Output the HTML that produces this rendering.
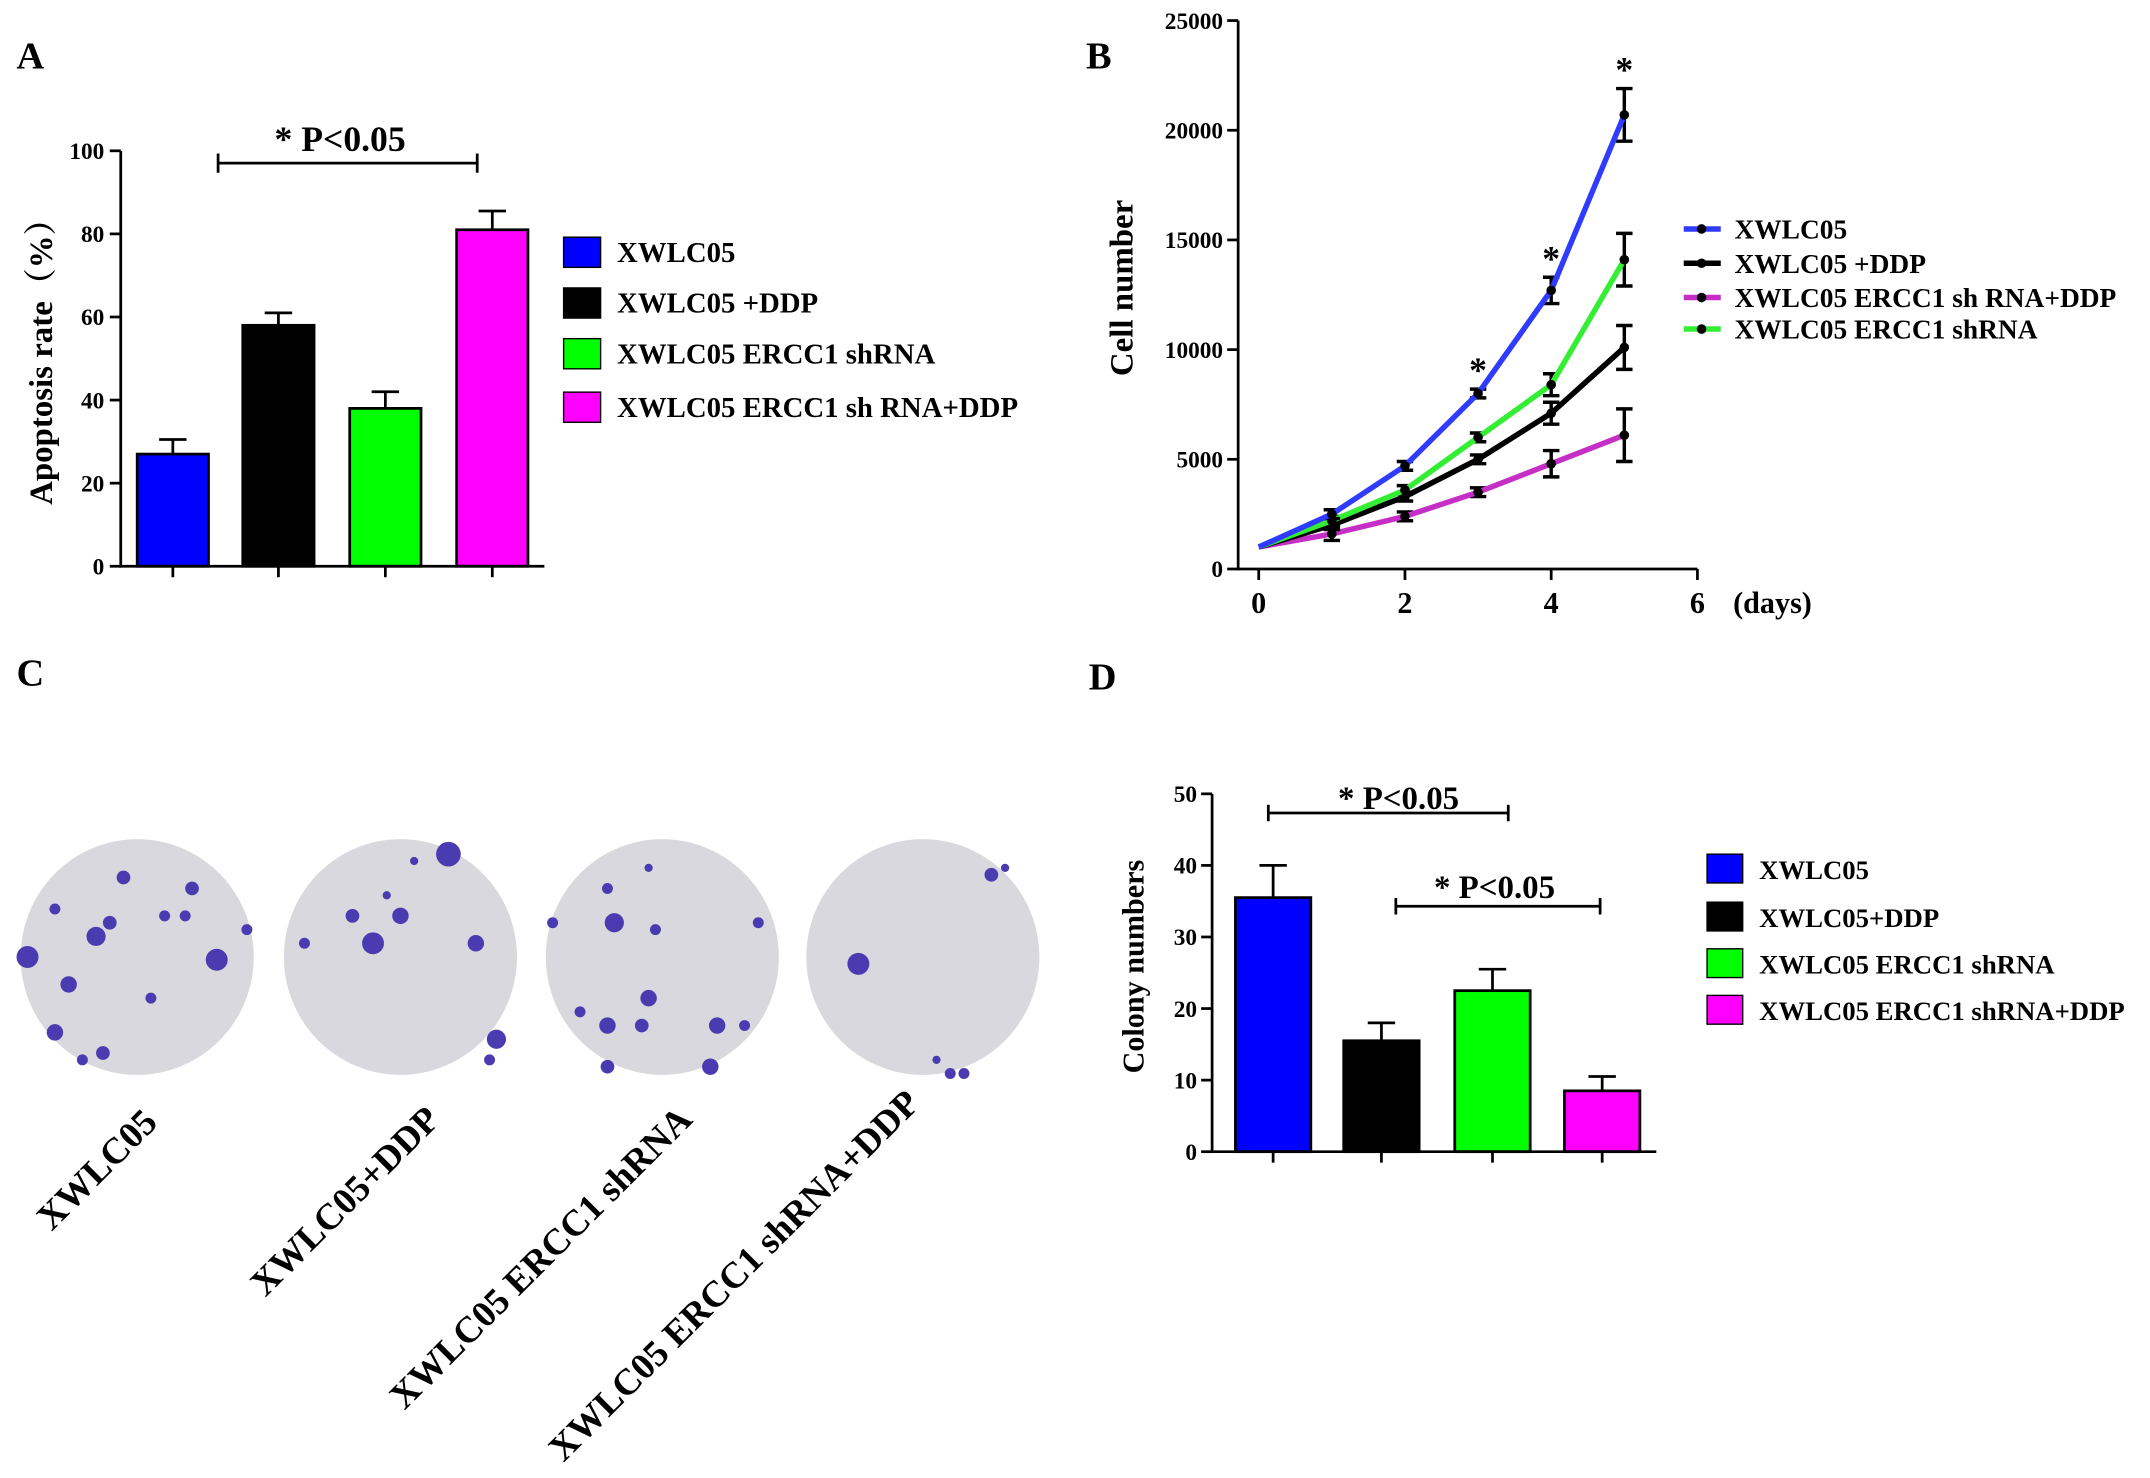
<!DOCTYPE html>
<html><head><meta charset="utf-8"><style>
html,body{margin:0;padding:0;background:#fff;}
svg{display:block;font-family:"Liberation Serif",serif;font-weight:bold;}
</style></head><body>
<svg id="fig" width="2150" height="1478" viewBox="0 0 1568 1078" xmlns="http://www.w3.org/2000/svg">
<g id="pa"></g>
<g id="pb"></g>
<g id="pc"></g>
<g id="pd"></g>
</svg>
<script>
// Panel A data
const aCats = ["XWLC05","XWLC05 +DDP","XWLC05 ERCC1 shRNA","XWLC05 ERCC1 sh RNA+DDP"];
const aVals = [27, 58, 38, 81];
const aErrs = [3.5, 3, 4, 4.5];
const aTicks = [0,20,40,60,80,100];
// Panel B data
const bDays = [0,1,2,3,4,5];
const bNames = ["XWLC05","XWLC05 +DDP","XWLC05 ERCC1 sh RNA+DDP","XWLC05 ERCC1 shRNA"];
const bS1 = [1000,2500,4700,8000,12700,20700];
const bS2 = [1000,2000,3300,5000,7100,10100];
const bS3 = [1000,1600,2400,3500,4800,6100];
const bS4 = [1000,2200,3600,6000,8400,14100];
const bE1 = [0,200,200,200,600,1200];
const bE2 = [0,200,200,200,500,1000];
const bE3 = [0,300,200,200,600,1200];
const bE4 = [0,200,200,200,500,1200];
const bYTicks = [0,5000,10000,15000,20000,25000];
const bXTicks = [0,2,4,6];
// Panel D data
const dCats = ["XWLC05","XWLC05+DDP","XWLC05 ERCC1 shRNA","XWLC05 ERCC1 shRNA+DDP"];
const dVals = [35.5, 15.5, 22.5, 8.5];
const dErrs = [4.5, 2.5, 3, 2];
const dTicks = [0,10,20,30,40,50];

const colors = ["#0000ff","#000000","#00ff00","#ff00ff"];
const NS="http://www.w3.org/2000/svg";
function mk(parent, tag, attrs, text){
  const e=document.createElementNS(NS,tag);
  for(const k in attrs) e.setAttribute(k,attrs[k]);
  if(text!==undefined) e.textContent=text;
  parent.appendChild(e); return e;
}
function line(p,x1,y1,x2,y2,w){return mk(p,'line',{x1,y1,x2,y2,stroke:'#000','stroke-width':w||2});}

// ---------- Panel A ----------
(function(){
  const g=document.getElementById('pa');
  const y=v=>413-v*3.03;
  const bx=[100,177,255,333], bw=52;
  let t=mk(g,'text',{x:12,y:50,'font-size':28},'A');
   
  aVals.forEach((v,i)=>{
    const cx=bx[i]+bw/2;
    const eb=line(g,cx,y(v),cx,y(v+aErrs[i]),2);
     
    line(g,cx-10,y(v+aErrs[i]),cx+10,y(v+aErrs[i]),2);
    const r=mk(g,'rect',{x:bx[i],y:y(v),width:bw,height:y(0)-y(v),fill:colors[i],stroke:'#000','stroke-width':2});
     
    line(g,cx,413,cx,421,2);
  });
  const ax=line(g,88,110,88,414,2);  
  const xx=line(g,87,413,397,413,2);  
  aTicks.forEach(v=>{
    line(g,80,y(v),88,y(v),2);
    const tl=mk(g,'text',{x:76,y:y(v)+6,'font-size':17,'text-anchor':'end'},v);
     
  });
  t=mk(g,'text',{transform:'translate(38,258) rotate(-90)','font-size':24,'text-anchor':'middle'},'Apoptosis rate（%）');
  t.style.fontFamily='"Liberation Serif","Noto Serif CJK SC",serif';
   
  line(g,159,119,348,119,2); line(g,159,112,159,126,2); line(g,348,112,348,126,2);
  t=mk(g,'text',{x:248,y:110,'font-size':26,'text-anchor':'middle'},'* P<0.05');
   
  const ly=[173,210,247,286];
  aCats.forEach((c,i)=>{
    const s=mk(g,'rect',{x:411,y:ly[i],width:27,height:22,fill:colors[i],stroke:'#000','stroke-width':1});
     
    const tt=mk(g,'text',{x:450,y:ly[i]+18,'font-size':21},c);
     
  });
})();

// ---------- Panel B ----------
(function(){
  const g=document.getElementById('pb');
  const x=d=>918+d*53.33, y=v=>415-v*0.016;
  let t=mk(g,'text',{x:792,y:50,'font-size':28},'B');
   
  let a=line(g,903,15,903,416,2);  
  a=line(g,902,415,1238,415,2);  
  bYTicks.forEach(v=>{
    line(g,895,y(v),903,y(v),2);
    const tl=mk(g,'text',{x:892,y:y(v)+6,'font-size':17,'text-anchor':'end'},v);
     
  });
  bXTicks.forEach(d=>{
    line(g,x(d),415,x(d),423,2);
    const tl=mk(g,'text',{x:x(d),y:447,'font-size':22,'text-anchor':'middle'},d);
     
  });
  t=mk(g,'text',{x:1264,y:447,'font-size':22},'(days)');
   
  t=mk(g,'text',{transform:'translate(826,210) rotate(-90)','font-size':24,'text-anchor':'middle'},'Cell number');
   
  const series=[bS1,bS2,bS3,bS4], errs=[bE1,bE2,bE3,bE4];
  const lc=["#2f3cff","#000000","#c62fc6","#33ee33"];
  const order=[2,1,3,0];
  order.forEach(k=>{
    const s=series[k];
    s.forEach((v,i)=>{
      const e=errs[k][i]; if(!e) return;
      line(g,x(bDays[i]),y(v-e),x(bDays[i]),y(v+e),2.5);
      line(g,x(bDays[i])-6,y(v-e),x(bDays[i])+6,y(v-e),2.5);
      line(g,x(bDays[i])-6,y(v+e),x(bDays[i])+6,y(v+e),2.5);
    });
    const p=mk(g,'polyline',{points:s.map((v,i)=>x(bDays[i])+','+y(v)).join(' '),fill:'none',stroke:lc[k],'stroke-width':4});
     
    s.forEach((v,i)=>{
      if(i===0) return;
      const m=mk(g,'circle',{cx:x(bDays[i]),cy:y(v),r:3.5,fill:'#000'});
       
    });
  });
  [3,4,5].forEach(i=>{
    const st=mk(g,'text',{x:x(bDays[i]),y:y(bS1[i]+bE1[i])-5,'font-size':26,'text-anchor':'middle'},'*');
     
  });
  const ly=[167,192,217,240];
  bNames.forEach((n,i)=>{
    const l=mk(g,'line',{x1:1228,y1:ly[i],x2:1255,y2:ly[i],stroke:lc[i],'stroke-width':4});
     
    mk(g,'circle',{cx:1241,cy:ly[i],r:3.5,fill:'#000'});
    const tt=mk(g,'text',{x:1265,y:ly[i]+7,'font-size':20},n);
     
  });
})();

// ---------- Panel C ----------
(function(){
  const g=document.getElementById('pc');
  let t=mk(g,'text',{x:12,y:500,'font-size':28},'C');
   
  const cx=[100,292,483,673];
  const dots=[
    [[-80,0,8],[-30,-15,7],[-60,-35,4],[40,-50,5],[-25,70,5],[-10,-58,5],[-50,20,6],[58,2,8],[20,-30,4],[-60,55,6],[80,-20,4],[35,-30,4],[10,30,4],[-20,-25,5],[-40,75,4]],
    [[35,-75,9],[-35,-30,5],[0,-30,6],[-20,-10,8],[55,-10,6],[70,60,7],[-70,-10,4],[-10,-45,3],[65,75,4],[10,-70,3]],
    [[-35,-25,7],[-40,-50,4],[-10,30,6],[-40,50,6],[-15,50,5],[40,50,6],[-40,80,5],[35,80,6],[-5,-20,4],[-80,-25,4],[70,-25,4],[60,50,4],[-10,-65,3],[-60,40,4]],
    [[-47,5,8],[50,-60,5],[60,-65,3],[20,85,4],[30,85,4],[10,75,3]]
  ];
  cx.forEach((c,i)=>{
    const pl=mk(g,'ellipse',{cx:c,cy:698,rx:85,ry:86,fill:'#d9d8de'});
     
    dots[i].forEach(d=>mk(g,'circle',{cx:c+d[0],cy:698+d[1],r:d[2],fill:'#4a3cb0'}));
  });
  const labs=["XWLC05","XWLC05+DDP","XWLC05 ERCC1 shRNA","XWLC05 ERCC1 shRNA+DDP"];
  const ends=[[116,820],[322,818],[506,818],[672,806]];
  labs.forEach((l,i)=>{
    const tt=mk(g,'text',{transform:`translate(${ends[i][0]},${ends[i][1]}) rotate(-45)`,'font-size':27,'text-anchor':'end'},l);
     
  });
})();

// ---------- Panel D ----------
(function(){
  const g=document.getElementById('pd');
  const y=v=>840-v*5.22;
  const bx=[901,980,1061,1141], bw=55;
  let t=mk(g,'text',{x:794,y:503,'font-size':28},'D');
   
  dVals.forEach((v,i)=>{
    const cx=bx[i]+bw/2;
    line(g,cx,y(v),cx,y(v+dErrs[i]),2);
    line(g,cx-10,y(v+dErrs[i]),cx+10,y(v+dErrs[i]),2);
    const r=mk(g,'rect',{x:bx[i],y:y(v),width:bw,height:y(0)-y(v),fill:colors[i],stroke:'#000','stroke-width':2});
     
    line(g,cx,840,cx,848,2);
  });
  let a=line(g,884,579,884,841,2);  
  a=line(g,883,840,1208,840,2);  
  dTicks.forEach(v=>{
    line(g,876,y(v),884,y(v),2);
    const tl=mk(g,'text',{x:873,y:y(v)+6,'font-size':17,'text-anchor':'end'},v);
     
  });
  t=mk(g,'text',{transform:'translate(834,705) rotate(-90)','font-size':22,'text-anchor':'middle'},'Colony numbers');
   
  line(g,925,593,1100,593,2); line(g,925,587,925,599,2); line(g,1100,587,1100,599,2);
  t=mk(g,'text',{x:1020,y:590,'font-size':24,'text-anchor':'middle'},'* P<0.05');
   
  line(g,1018,661,1167,661,2); line(g,1018,655,1018,667,2); line(g,1167,655,1167,667,2);
  t=mk(g,'text',{x:1090,y:655,'font-size':24,'text-anchor':'middle'},'* P<0.05');
   
  const ly=[623,658,692,726];
  dCats.forEach((c,i)=>{
    const s=mk(g,'rect',{x:1245,y:ly[i],width:26,height:21,fill:colors[i],stroke:'#000','stroke-width':1});
     
    const tt=mk(g,'text',{x:1283,y:ly[i]+18,'font-size':19.5},c);
     
  });
})();
</script>
</body></html>
